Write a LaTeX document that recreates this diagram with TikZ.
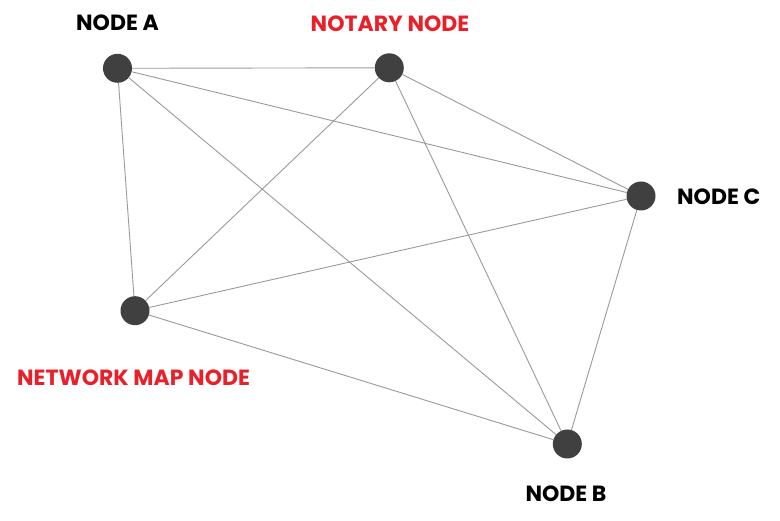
\documentclass[tikz,border=0pt]{standalone}
\usepackage{fontspec}
\setmainfont{Poppins}
\definecolor{nodegray}{HTML}{404040}
\definecolor{edgegray}{HTML}{999999}
\definecolor{labred}{HTML}{E8202A}
\tikzset{
  dot/.style={circle, fill=nodegray, minimum size=29pt, inner sep=0pt},
  edge/.style={draw=edgegray, line width=0.9pt},
  lab/.style={font=\fontsize{22}{25}\selectfont\bfseries, text=black, inner sep=0pt},
  redlab/.style={lab, text=labred}
}
\begin{document}
\begin{tikzpicture}[x=1pt,y=-1pt]
\useasboundingbox (0,0) rectangle (780,521);
\node[dot] (a) at (117.5,68.3) {};
\node[dot] (n) at (389.3,67.8) {};
\node[dot] (c) at (641,196) {};
\node[dot] (m) at (135,310.7) {};
\node[dot] (b) at (567.3,444) {};
\draw[edge] (a) -- (n);
\draw[edge] (a) -- (c);
\draw[edge] (a) -- (m);
\draw[edge] (a) -- (b);
\draw[edge] (n) -- (c);
\draw[edge] (n) -- (m);
\draw[edge] (n) -- (b);
\draw[edge] (c) -- (m);
\draw[edge] (c) -- (b);
\draw[edge] (m) -- (b);
\node[lab, anchor=base] (la) at (117.5,31) {NODE A};
\node[redlab, anchor=base] (ln) at (390,32) {NOTARY NODE};
\node[lab, anchor=base west] (lc) at (677,205) {NODE C};
\node[redlab, anchor=base west] (lm) at (17,386) {NETWORK MAP NODE};
\node[lab, anchor=base] (lb) at (566,501) {NODE B};
\end{tikzpicture}
\end{document}
